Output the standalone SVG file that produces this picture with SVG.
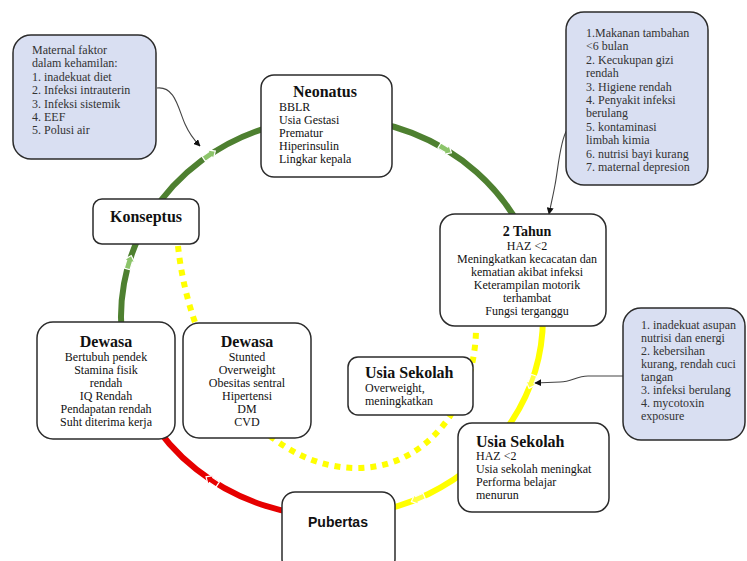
<svg xmlns="http://www.w3.org/2000/svg" xmlns:xlink="http://www.w3.org/1999/xlink" width="747" height="561" viewBox="0 0 747 561">
<style>
.box{fill:#ffffff;stroke:#2b2b2b;stroke-width:1.5}
.note{fill:#d9dff2;stroke:#2b2b2b;stroke-width:1.5}
.t{font-family:"Liberation Serif","Times New Roman",serif;font-size:12px;fill:#111}
.n{font-family:"Liberation Serif","Times New Roman",serif;font-size:12px;fill:#333}
.h{font-family:"Liberation Serif","Times New Roman",serif;font-size:16px;font-weight:bold;fill:#111}
.c{text-anchor:middle}
.arc{fill:none;stroke-width:6}
.ann{fill:none;stroke:#444;stroke-width:1.1}
</style>
<defs>
<marker id="ah" viewBox="0 0 10 10" refX="9" refY="5" markerWidth="7" markerHeight="7" orient="auto" markerUnits="userSpaceOnUse">
<path d="M0,0 L10,5 L0,10 z" fill="#111"/>
</marker>
<polygon id="arrG" points="-7,-3 1,-3 1,-5.5 7,0 1,5.5 1,3 -7,3" fill="#8cc46a" stroke="#ffffff" stroke-width="1.2"/>
<polygon id="arrR" points="-7,-3 1,-3 1,-5.5 7,0 1,5.5 1,3 -7,3" fill="#e80000" stroke="#ffffff" stroke-width="1.2"/>
<polygon id="arrY" points="-7,-3 1,-3 1,-5.5 7,0 1,5.5 1,3 -7,3" fill="#ffff40" stroke="#ffffff" stroke-width="1.2"/>
</defs>
<rect width="747" height="561" fill="#ffffff"/>

<g id="connectors">
<path class="arc" stroke="#4e8030" d="M124.2,351.6 A211,199 0 0 1 520,226.7"/>
<path class="arc" stroke="#ffff00" d="M520,226.7 A211,199 0 0 1 332,516"/>
<path class="arc" stroke="#e60000" d="M332,516 A211,199 0 0 1 124.2,351.6"/>
<path fill="none" stroke="#ffff00" stroke-width="6" stroke-dasharray="6 6" d="M178,246 C190,360 260,470 360,468 C430,466 475,400 476,330"/>
<use xlink:href="#arrG" transform="translate(129.2,262.2) rotate(-73)"/>
<use xlink:href="#arrG" transform="translate(209.5,155) rotate(-34)"/>
<use xlink:href="#arrG" transform="translate(445.4,149.2) rotate(31)"/>
<use xlink:href="#arrR" transform="translate(211.9,480.6) rotate(-147)"/>
<use xlink:href="#arrY" transform="translate(531.5,381.8) rotate(110)"/>
<use xlink:href="#arrY" transform="translate(417.8,498.8) rotate(157)"/>
<path class="ann" marker-end="url(#ah)" d="M157,88 C175,86 178,108 185,124 C189,133 193,139 200,146"/>
<path class="ann" marker-end="url(#ah)" d="M567,130 C560,140 558,170 555,185 C553,196 551,204 549,214"/>
<path class="ann" marker-end="url(#ah)" d="M623,376 L588,376 C576,376 572,382 560,382 L535,383"/>
</g>

<g id="maternal">
<rect class="note" x="13" y="35" width="143" height="124" rx="18"/>
<text class="n" x="32" y="54">Maternal faktor</text>
<text class="n" x="32" y="67.4">dalam kehamilan:</text>
<text class="n" x="32" y="80.8">1. inadekuat diet</text>
<text class="n" x="32" y="94.2">2. Infeksi intrauterin</text>
<text class="n" x="32" y="107.6">3. Infeksi sistemik</text>
<text class="n" x="32" y="121">4. EEF</text>
<text class="n" x="32" y="134.4">5. Polusi air</text>
</g>

<g id="neonatus">
<rect class="box" x="261" y="75" width="131" height="102" rx="13"/>
<text class="h c" x="325" y="96.5">Neonatus</text>
<text class="t" x="279" y="111">BBLR</text>
<text class="t" x="279" y="124">Usia Gestasi</text>
<text class="t" x="279" y="137">Prematur</text>
<text class="t" x="279" y="150">Hiperinsulin</text>
<text class="t" x="279" y="163">Lingkar kepala</text>
</g>

<g id="faktor-2tahun">
<rect class="note" x="566" y="12" width="142" height="173" rx="18"/>
<text class="n" x="586" y="37">1.Makanan tambahan</text>
<text class="n" x="586" y="50.4">&lt;6 bulan</text>
<text class="n" x="586" y="63.8">2. Kecukupan gizi</text>
<text class="n" x="586" y="77.2">rendah</text>
<text class="n" x="586" y="90.6">3. Higiene rendah</text>
<text class="n" x="586" y="104">4. Penyakit infeksi</text>
<text class="n" x="586" y="117.4">berulang</text>
<text class="n" x="586" y="130.8">5. kontaminasi</text>
<text class="n" x="586" y="144.2">limbah kimia</text>
<text class="n" x="586" y="157.6">6. nutrisi bayi kurang</text>
<text class="n" x="586" y="171">7. maternal depresion</text>
</g>

<g id="konseptus">
<rect class="box" x="93" y="199" width="106" height="45" rx="9"/>
<text class="h c" x="146" y="222">Konseptus</text>
</g>

<g id="dua-tahun">
<rect class="box" x="440" y="214" width="166" height="112" rx="15"/>
<text class="h c" x="527" y="236" style="font-size:14px">2 Tahun</text>
<text class="t c" x="527" y="250">HAZ &lt;2</text>
<text class="t c" x="527" y="263">Meningkatkan kecacatan dan</text>
<text class="t c" x="527" y="276">kematian akibat infeksi</text>
<text class="t c" x="527" y="289">Keterampilan motorik</text>
<text class="t c" x="527" y="302">terhambat</text>
<text class="t c" x="527" y="315">Fungsi terganggu</text>
</g>

<g id="faktor-usia-sekolah">
<rect class="note" x="623" y="308" width="122" height="132" rx="18"/>
<text class="n" x="641" y="329">1. inadekuat asupan</text>
<text class="n" x="641" y="342">nutrisi dan energi</text>
<text class="n" x="641" y="355">2. kebersihan</text>
<text class="n" x="641" y="368">kurang, rendah cuci</text>
<text class="n" x="641" y="381">tangan</text>
<text class="n" x="641" y="394">3. infeksi berulang</text>
<text class="n" x="641" y="407">4. mycotoxin</text>
<text class="n" x="641" y="420">exposure</text>
</g>

<g id="dewasa-1">
<rect class="box" x="37" y="322" width="138" height="117" rx="16"/>
<text class="h c" x="106" y="346.5">Dewasa</text>
<text class="t c" x="106" y="361">Bertubuh pendek</text>
<text class="t c" x="106" y="374">Stamina fisik</text>
<text class="t c" x="106" y="387">rendah</text>
<text class="t c" x="106" y="400">IQ Rendah</text>
<text class="t c" x="106" y="413">Pendapatan rendah</text>
<text class="t c" x="106" y="426">Suht diterima kerja</text>
</g>

<g id="dewasa-2">
<rect class="box" x="183" y="323" width="128" height="115" rx="16"/>
<text class="h c" x="247" y="346.5">Dewasa</text>
<text class="t c" x="247" y="361">Stunted</text>
<text class="t c" x="247" y="374">Overweight</text>
<text class="t c" x="247" y="387">Obesitas sentral</text>
<text class="t c" x="247" y="400">Hipertensi</text>
<text class="t c" x="247" y="413">DM</text>
<text class="t c" x="247" y="426">CVD</text>
</g>

<g id="usia-sekolah-1">
<rect class="box" x="348" y="357" width="125" height="58" rx="10"/>
<text class="h" x="365" y="377.5">Usia Sekolah</text>
<text class="t" x="365" y="392">Overweight,</text>
<text class="t" x="365" y="405">meningkatkan</text>
</g>

<g id="usia-sekolah-2">
<rect class="box" x="458" y="423" width="151" height="89" rx="14"/>
<text class="h" x="476" y="447">Usia Sekolah</text>
<text class="t" x="476" y="460">HAZ &lt;2</text>
<text class="t" x="476" y="473">Usia sekolah meningkat</text>
<text class="t" x="476" y="486">Performa belajar</text>
<text class="t" x="476" y="499">menurun</text>
</g>

<g id="pubertas">
<rect class="box" x="282" y="492" width="113" height="80" rx="13"/>
<text class="c" x="338" y="527" style="font-family:'Liberation Sans',Arial,sans-serif;font-size:14px;font-weight:bold;fill:#111">Pubertas</text>
</g>
</svg>
